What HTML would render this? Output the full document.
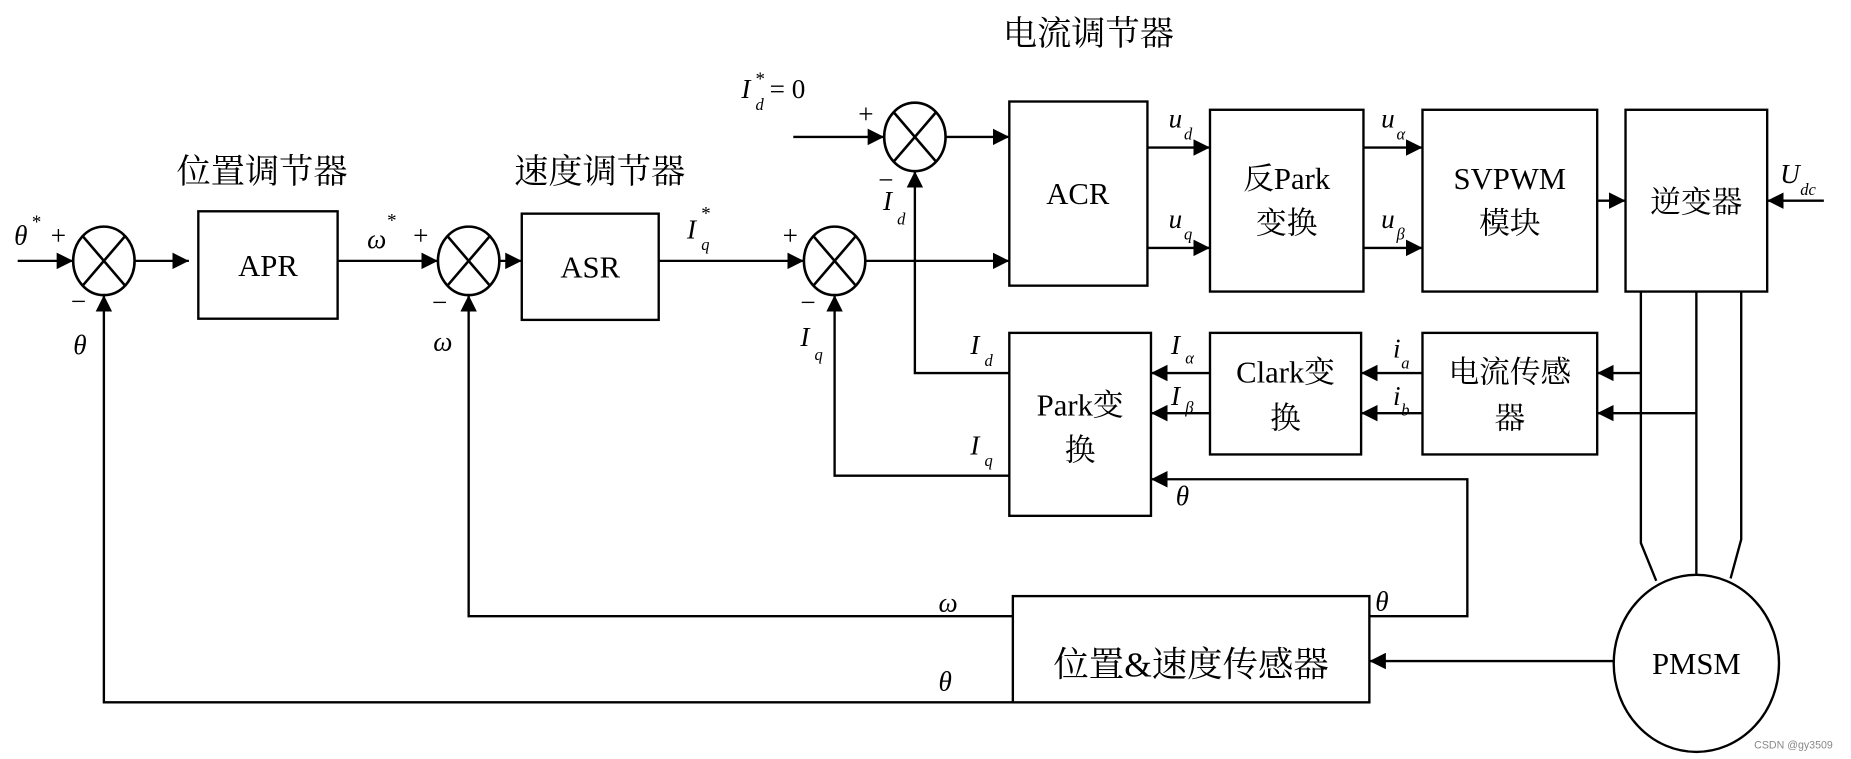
<!DOCTYPE html>
<html><head><meta charset="utf-8"><style>
html,body{margin:0;padding:0;background:#fff;}
svg{display:block;}
text{font-family:"Liberation Serif","Noto Serif CJK SC",serif;fill:#000;}
.i{font-style:italic;}
</style></head><body>
<svg width="1851" height="759" viewBox="0 0 1568 643" preserveAspectRatio="none" xmlns="http://www.w3.org/2000/svg">
<defs>
<marker id="b" viewBox="0 0 14 14" markerWidth="14" markerHeight="14" refX="14" refY="7" orient="auto" markerUnits="userSpaceOnUse"><path d="M0,0 L14,7 L0,14 Z" fill="#000"/></marker>
<g id="s" stroke="#000" stroke-width="2.2" fill="none"><ellipse cx="0" cy="0" rx="26" ry="29"/><line x1="-18" y1="-21" x2="18" y2="21"/><line x1="18" y1="-21" x2="-18" y2="21"/></g>
</defs>
<g stroke="#000" stroke-width="2" fill="none">
<use href="#s" x="88" y="221"/><use href="#s" x="397" y="221"/><use href="#s" x="707" y="221"/><use href="#s" x="775" y="116"/>
<rect x="168" y="179" width="118" height="91"/>
<rect x="442" y="181" width="116" height="90"/>
<rect x="855" y="86" width="117" height="156"/>
<rect x="1025" y="93" width="130" height="154"/>
<rect x="1205" y="93" width="148" height="154"/>
<rect x="1377" y="93" width="120" height="154"/>
<rect x="1205" y="282" width="148" height="103"/>
<rect x="1025" y="282" width="128" height="103"/>
<rect x="855" y="282" width="120" height="155"/>
<rect x="858" y="505" width="302" height="90"/>
<ellipse cx="1437" cy="562" rx="70" ry="75"/>
<g marker-end="url(#b)">
<line x1="15" y1="221" x2="62" y2="221"/>
<line x1="114" y1="221" x2="160" y2="221"/>
<line x1="286" y1="221" x2="371" y2="221"/>
<line x1="423" y1="221" x2="442" y2="221"/>
<line x1="558" y1="221" x2="681" y2="221"/>
<line x1="733" y1="221" x2="855" y2="221"/>
<line x1="672" y1="116" x2="749" y2="116"/>
<line x1="801" y1="116" x2="855" y2="116"/>
<line x1="972" y1="125" x2="1025" y2="125"/>
<line x1="972" y1="210" x2="1025" y2="210"/>
<line x1="1155" y1="125" x2="1205" y2="125"/>
<line x1="1155" y1="210" x2="1205" y2="210"/>
<line x1="1353" y1="170" x2="1377" y2="170"/>
<line x1="1545" y1="170" x2="1497" y2="170"/>
<line x1="1390" y1="316" x2="1353" y2="316"/>
<line x1="1437" y1="350" x2="1353" y2="350"/>
<line x1="1205" y1="316" x2="1153" y2="316"/>
<line x1="1205" y1="350" x2="1153" y2="350"/>
<line x1="1025" y1="316" x2="975" y2="316"/>
<line x1="1025" y1="350" x2="975" y2="350"/>
<line x1="1367" y1="560" x2="1160" y2="560"/>
<polyline points="855,316 775,316 775,145"/>
<polyline points="855,403 707,403 707,250"/>
<polyline points="1160,522 1243,522 1243,406 975,406"/>
<polyline points="858,522 397,522 397,250"/>
<polyline points="858,595 88,595 88,250"/>
</g>
<polyline points="1390,247 1390,460 1403,492"/>
<line x1="1437" y1="247" x2="1437" y2="487"/>
<polyline points="1475,247 1475,457 1466,490"/>
</g>
<g font-size="29">
<text x="222" y="155" text-anchor="middle">位置调节器</text>
<text x="508" y="155" text-anchor="middle">速度调节器</text>
<text x="922" y="38" text-anchor="middle">电流调节器</text>
</g>
<g font-size="26" text-anchor="middle">
<text x="227" y="234">APR</text>
<text x="500" y="235">ASR</text>
<text x="913" y="173">ACR</text>
<text x="1090" y="160">反Park</text>
<text x="1090" y="198">变换</text>
<text x="1279" y="160">SVPWM</text>
<text x="1279" y="198">模块</text>
<text x="1437" y="180">逆变器</text>
<text x="1279" y="324">电流传感</text>
<text x="1279" y="363">器</text>
<text x="1089" y="324">Clark变</text>
<text x="1089" y="363">换</text>
<text x="915" y="352">Park变</text>
<text x="915" y="390">换</text>
<text x="1009" y="573" font-size="30">位置&amp;速度传感器</text>
<text x="1437" y="571">PMSM</text>
</g>
<g font-size="23">
<text class="i" x="12" y="207">θ</text><text x="27" y="193" font-size="16">*</text><text x="43" y="207">+</text>
<text x="60" y="263">−</text><text class="i" x="62" y="300">θ</text>
<text class="i" x="311" y="210">ω</text><text x="328" y="192" font-size="16">*</text><text x="350" y="207">+</text>
<text x="366" y="264">−</text><text class="i" x="367" y="297">ω</text>
<text class="i" x="582" y="202">I</text><text class="i" x="594" y="212" font-size="14">q</text><text x="594" y="186" font-size="16">*</text>
<text x="663" y="207">+</text>
<text x="678" y="264">−</text><text class="i" x="678" y="293">I</text><text class="i" x="690" y="305" font-size="14">q</text>
<text class="i" x="628" y="83">I</text><text class="i" x="640" y="93" font-size="14">d</text><text x="640" y="72" font-size="16">*</text><text x="652" y="83">= 0</text>
<text x="727" y="104">+</text>
<text x="744" y="160">−</text><text class="i" x="748" y="178">I</text><text class="i" x="760" y="190" font-size="14">d</text>
<text class="i" x="822" y="300">I</text><text class="i" x="834" y="310" font-size="14">d</text>
<text class="i" x="822" y="385">I</text><text class="i" x="834" y="395" font-size="14">q</text>
<text class="i" x="992" y="300">I</text><text class="i" x="1004" y="308" font-size="14">α</text>
<text class="i" x="992" y="343">I</text><text class="i" x="1004" y="350" font-size="14">β</text>
<text class="i" x="1180" y="303">i</text><text class="i" x="1187" y="312" font-size="14">a</text>
<text class="i" x="1180" y="343">i</text><text class="i" x="1187" y="352" font-size="14">b</text>
<text class="i" x="990" y="108">u</text><text class="i" x="1003" y="118" font-size="14">d</text>
<text class="i" x="990" y="193">u</text><text class="i" x="1003" y="203" font-size="14">q</text>
<text class="i" x="1170" y="108">u</text><text class="i" x="1183" y="118" font-size="14">α</text>
<text class="i" x="1170" y="193">u</text><text class="i" x="1183" y="203" font-size="14">β</text>
<text class="i" x="1508" y="155">U</text><text class="i" x="1525" y="165" font-size="14">dc</text>
<text class="i" x="996" y="428">θ</text>
<text class="i" x="1165" y="517">θ</text>
<text class="i" x="795" y="518">ω</text>
<text class="i" x="795" y="585">θ</text>
</g>
<text x="1486" y="634" font-size="9" style="fill:#888;font-family:'Liberation Sans',sans-serif">CSDN @gy3509</text>
</svg>
</body></html>
